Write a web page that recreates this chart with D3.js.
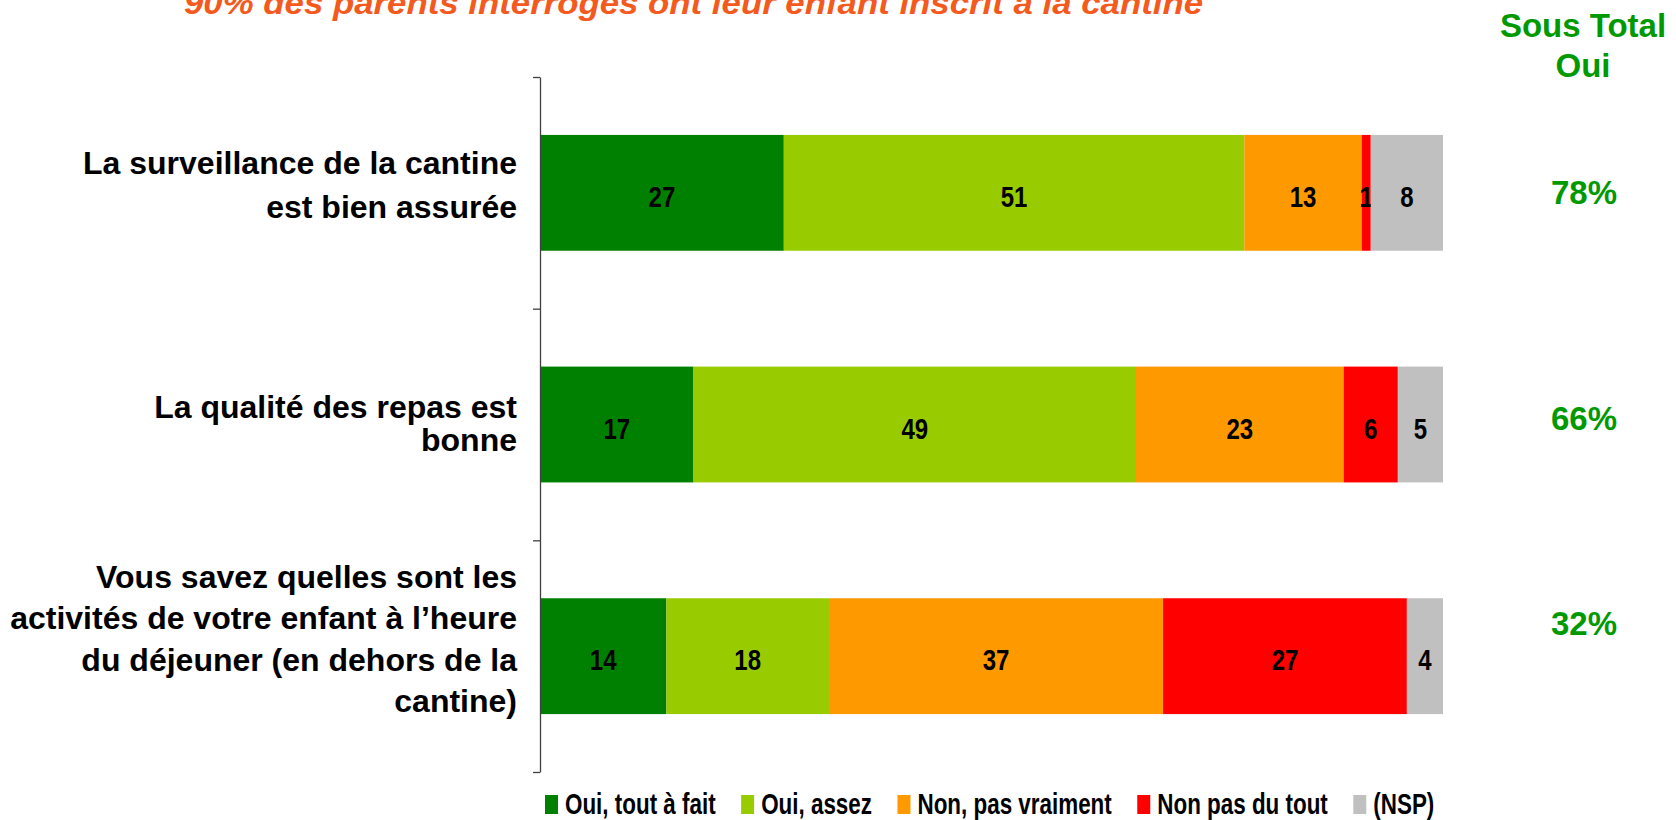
<!DOCTYPE html>
<html>
<head>
<meta charset="utf-8">
<script src="https://cdn.jsdelivr.net/npm/d3@7/dist/d3.min.js"></script>
<style>
    html, body { margin: 0; padding: 0; background: #ffffff; }
    svg { display: block; }
</style>
</head>
<body>
<svg id="chart" width="1676" height="820"></svg>
<script>
"use strict";

// data
var titleText = "90% des parents interrogés ont leur enfant inscrit à la cantine";
var questions = [
    ["La surveillance de la cantine", "est bien assurée"],
    ["La qualité des repas est", "bonne"],
    ["Vous savez quelles sont les", "activités de votre enfant à l\u2019heure", "du déjeuner (en dehors de la", "cantine)"]
];
var answerKeys = ["Oui, tout à fait", "Oui, assez", "Non, pas vraiment", "Non pas du tout", "(NSP)"];
var answerColors = ["#008000", "#99cc00", "#ff9900", "#ff0000", "#c0c0c0"];
var toutAFait = [27, 17, 14];
var assez = [51, 49, 18];
var pasVraiment = [13, 23, 37];
var pasDuTout = [1, 6, 27];
var nsp = [8, 5, 4];
var subTotalHeader = ["Sous Total", "Oui"];

// layout bits
var labelLeading = [44, 33, 41.5];
var labelShift = [1, 8, -8];
var subTotalShift = [11, 5, -21];
var narrow = 0.8;

var svg = d3.select("#chart");

var rows = questions.map(function(q, i) {
    var row = { id: i };
    row[answerKeys[0]] = toutAFait[i];
    row[answerKeys[1]] = assez[i];
    row[answerKeys[2]] = pasVraiment[i];
    row[answerKeys[3]] = pasDuTout[i];
    row[answerKeys[4]] = nsp[i];
    return row;
});

var x = d3.scaleLinear().domain([0, 100]).range([540, 1443]);
var y = d3.scaleBand().domain(d3.range(questions.length))
    .range([77, 772]).paddingInner(0.5).paddingOuter(0.25);
var yEdge = d3.scaleLinear().domain([0, questions.length]).range([77, 772]);
var color = d3.scaleOrdinal().domain(answerKeys).range(answerColors);

var series = d3.stack().keys(answerKeys)(rows);

// title (cut off by the top edge, as in the slide)
svg.append("text")
    .attr("x", 184)
    .attr("y", 14)
    .attr("textLength", 1019)
    .attr("lengthAdjust", "spacingAndGlyphs")
    .style("font-family", "Liberation Sans, Arial, sans-serif")
    .style("font-weight", "bold")
    .style("font-style", "italic")
    .style("font-size", "31px")
    .style("fill", "#f45a1d")
    .text(titleText);

// bars
var layer = svg.append("g").selectAll("g")
    .data(series)
    .enter().append("g")
    .attr("fill", function(d) { return color(d.key); });

layer.selectAll("rect")
    .data(function(d) { return d; })
    .enter().append("rect")
    .attr("x", function(d) { return x(d[0]); })
    .attr("y", function(d) { return y(d.data.id); })
    .attr("width", function(d) { return x(d[1]) - x(d[0]); })
    .attr("height", y.bandwidth());

layer.selectAll("g.val")
    .data(function(d) { return d; })
    .enter().append("g")
    .attr("class", "val")
    .attr("transform", function(d) {
        var cx = (x(d[0]) + x(d[1])) / 2;
        var cy = y(d.data.id) + y.bandwidth() / 2 + 14;
        return "translate(" + cx + "," + cy + ") scale(" + narrow + ",1)";
    })
    .append("text")
    .attr("text-anchor", "middle")
    .style("font-family", "Liberation Sans, Arial, sans-serif")
    .style("font-weight", "bold")
    .style("font-size", "30px")
    .style("fill", "#000000")
    .text(function(d) { return d[1] - d[0]; });

// axis on the left, ticks between the categories
var axis = svg.append("g")
    .attr("transform", "translate(540,0)")
    .call(d3.axisLeft(yEdge).tickValues(d3.range(questions.length + 1))
        .tickSize(7).tickSizeOuter(0).tickFormat(""));
axis.selectAll("path, line").attr("stroke", "#404040").attr("stroke-width", 1.3);

// category labels
questions.forEach(function(lines, i) {
    var mid = y(i) + y.bandwidth() / 2 + labelShift[i];
    var first = mid - (lines.length - 1) * labelLeading[i] / 2 + 2;
    var t = svg.append("text")
        .attr("text-anchor", "end")
        .style("font-family", "Liberation Sans, Arial, sans-serif")
        .style("font-weight", "bold")
        .style("font-size", "32px")
        .style("fill", "#000000");
    lines.forEach(function(line, j) {
        t.append("tspan")
            .attr("x", 517)
            .attr("y", first + j * labelLeading[i])
            .text(line);
    });
});

// sous total oui
var head = svg.append("text")
    .attr("text-anchor", "middle")
    .style("font-family", "Liberation Sans, Arial, sans-serif")
    .style("font-weight", "bold")
    .style("font-size", "33px")
    .style("fill", "#009900");
subTotalHeader.forEach(function(line, j) {
    head.append("tspan").attr("x", 1583).attr("y", 37 + j * 40).text(line);
});

svg.append("g").selectAll("text")
    .data(rows)
    .enter().append("text")
    .attr("x", 1584)
    .attr("y", function(d) { return y(d.id) + y.bandwidth() / 2 + subTotalShift[d.id]; })
    .attr("text-anchor", "middle")
    .style("font-family", "Liberation Sans, Arial, sans-serif")
    .style("font-weight", "bold")
    .style("font-size", "33px")
    .style("fill", "#009900")
    .text(function(d) { return (d[answerKeys[0]] + d[answerKeys[1]]) + "%"; });

// legend
var legend = svg.append("g").attr("transform", "translate(545,795)");
var lx = 0;
answerKeys.forEach(function(key) {
    legend.append("rect")
        .attr("x", lx).attr("y", 0)
        .attr("width", 13).attr("height", 19)
        .attr("fill", color(key));
    var g = legend.append("g")
        .attr("transform", "translate(" + (lx + 20) + ",19) scale(0.76,1)");
    var t = g.append("text")
        .style("font-family", "Liberation Sans, Arial, sans-serif")
        .style("font-weight", "bold")
        .style("font-size", "29.5px")
        .style("fill", "#000000")
        .text(key);
    lx += 20 + t.node().getComputedTextLength() * 0.76 + 25.5;
});
</script>
</body>
</html>
